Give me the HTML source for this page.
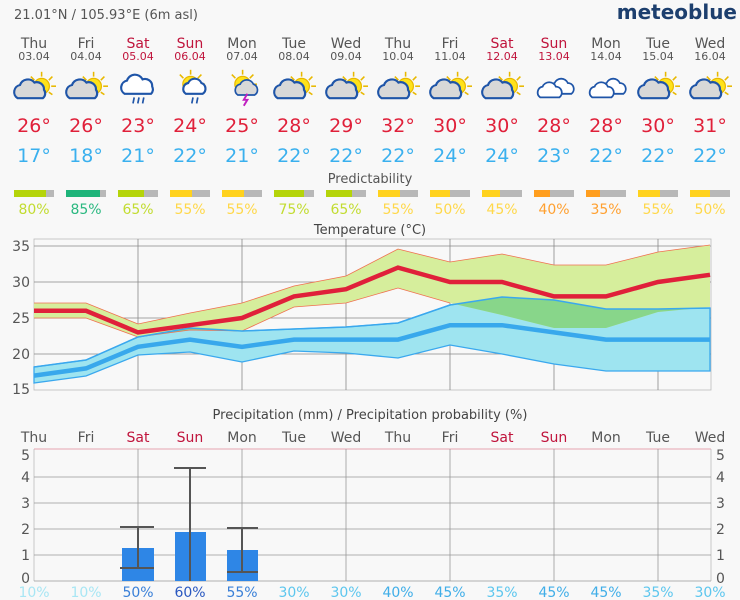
<!DOCTYPE html>
<html><head><meta charset="utf-8"><style>
body{margin:0;background:#f8f8f8;}
svg{display:block;font-family:"DejaVu Sans","Liberation Sans",sans-serif;}
</style></head><body>
<svg width="740" height="600" viewBox="0 0 740 600" xmlns="http://www.w3.org/2000/svg">
<defs>
<g id="sun"><g stroke="#e8b800" stroke-width="1.3"><line x1="8" y1="-12" x2="8" y2="-16"/><line x1="14" y1="-9" x2="17" y2="-12"/><line x1="16" y1="-4" x2="20" y2="-4"/><line x1="2" y1="-9" x2="-1" y2="-12"/><line x1="14" y1="1" x2="17" y2="3"/></g><circle cx="8" cy="-4" r="6.5" fill="#ffe21a" stroke="#e8b800" stroke-width="1"/></g>
<path id="cl" d="M-12,6 a6,6 0 0 1 2,-11 a7,7 0 0 1 12,-2 a6,6 0 0 1 8,6 a5,5 0 0 1 -1,7 z" fill="#d8d8d8" stroke="#1f55a8" stroke-width="1.8"/>
<g id="pc"><use href="#sun"/><use href="#cl"/></g>
<g id="ov"><path d="M-4,4 a5,5 0 0 1 2,-9 a6,6 0 0 1 11,0 a5,5 0 0 1 3,9 z" fill="#fff" stroke="#1f55a8" stroke-width="1.5"/><path d="M-14,7 a5,5 0 0 1 2,-9 a6,6 0 0 1 11,0 a5,5 0 0 1 3,9 z" fill="#fff" stroke="#1f55a8" stroke-width="1.5"/></g>
<g id="rain"><path d="M-12,4 a6,6 0 0 1 2,-11 a7,7 0 0 1 13,-1 a6,6 0 0 1 8,6 a5,5 0 0 1 -1,6 z" fill="#fff" stroke="#1f55a8" stroke-width="1.8"/><g stroke="#1f55a8" stroke-width="1.4"><line x1="-4" y1="7" x2="-5" y2="12"/><line x1="0" y1="7" x2="-1" y2="12"/><line x1="4" y1="7" x2="3" y2="12"/></g></g>
<g id="sunrain"><use href="#sun" x="-10" y="0"/><path d="M-6,4 a5,5 0 0 1 2,-9 a6,6 0 0 1 11,0 a5,5 0 0 1 1,9 z" fill="#fff" stroke="#1f55a8" stroke-width="1.8"/><g stroke="#1f55a8" stroke-width="1.4"><line x1="0" y1="7" x2="-1" y2="12"/><line x1="4" y1="7" x2="3" y2="12"/></g></g>
<g id="thunder"><use href="#sun" x="-10" y="0"/><path d="M-6,5 a5,5 0 0 1 2,-9 a6,6 0 0 1 11,0 a5,5 0 0 1 1,9 z" fill="#d8d8d8" stroke="#1f55a8" stroke-width="1.4"/><path d="M2,4 l-3,5 h3 l-3,5" stroke="#c020c0" stroke-width="1.6" fill="none"/></g>
<clipPath id="minclip"><polygon points="34,367 86,360 138,337 190,328 242,331 294,329 346,327 398,323 450,305 502,297 554,300 606,309 658,309 710,308 710,371 658,371 606,371 554,364 502,354 450,345 398,358 346,353 294,351 242,362 190,352 138,355 86,376 34,383"/></clipPath>
</defs>
<text x="14" y="19" font-size="13" fill="#555">21.01°N / 105.93°E (6m asl)</text>
<text x="737" y="19" font-size="20" font-weight="bold" fill="#1d3f6e" text-anchor="end">meteoblue</text>

<g font-size="14" text-anchor="middle" fill="#555">
<text x="34" y="48">Thu</text><text x="86" y="48">Fri</text><text x="138" y="48" fill="#c0143c">Sat</text><text x="190" y="48" fill="#c0143c">Sun</text><text x="242" y="48">Mon</text><text x="294" y="48">Tue</text><text x="346" y="48">Wed</text><text x="398" y="48">Thu</text><text x="450" y="48">Fri</text><text x="502" y="48" fill="#c0143c">Sat</text><text x="554" y="48" fill="#c0143c">Sun</text><text x="606" y="48">Mon</text><text x="658" y="48">Tue</text><text x="710" y="48">Wed</text>
</g>
<g font-size="11" text-anchor="middle" fill="#555">
<text x="34" y="60">03.04</text><text x="86" y="60">04.04</text><text x="138" y="60" fill="#c0143c">05.04</text><text x="190" y="60" fill="#c0143c">06.04</text><text x="242" y="60">07.04</text><text x="294" y="60">08.04</text><text x="346" y="60">09.04</text><text x="398" y="60">10.04</text><text x="450" y="60">11.04</text><text x="502" y="60" fill="#c0143c">12.04</text><text x="554" y="60" fill="#c0143c">13.04</text><text x="606" y="60">14.04</text><text x="658" y="60">15.04</text><text x="710" y="60">16.04</text>
</g>
<use href="#pc" transform="translate(32,91) scale(1.2)"/>
<use href="#pc" transform="translate(84,91) scale(1.2)"/>
<use href="#rain" transform="translate(139,89) scale(1.2)"/>
<use href="#sunrain" transform="translate(193,89) scale(1.2)"/>
<use href="#thunder" transform="translate(245,89) scale(1.2)"/>
<use href="#pc" transform="translate(292,91) scale(1.2)"/>
<use href="#pc" transform="translate(344,91) scale(1.2)"/>
<use href="#pc" transform="translate(396,91) scale(1.2)"/>
<use href="#pc" transform="translate(448,91) scale(1.2)"/>
<use href="#pc" transform="translate(500,91) scale(1.2)"/>
<use href="#ov" transform="translate(557,89) scale(1.2)"/>
<use href="#ov" transform="translate(609,89) scale(1.2)"/>
<use href="#pc" transform="translate(656,91) scale(1.2)"/>
<use href="#pc" transform="translate(708,91) scale(1.2)"/>

<g font-size="19" text-anchor="middle" fill="#e0203a">
<text x="34" y="132">26°</text><text x="86" y="132">26°</text><text x="138" y="132">23°</text><text x="190" y="132">24°</text><text x="242" y="132">25°</text><text x="294" y="132">28°</text><text x="346" y="132">29°</text><text x="398" y="132">32°</text><text x="450" y="132">30°</text><text x="502" y="132">30°</text><text x="554" y="132">28°</text><text x="606" y="132">28°</text><text x="658" y="132">30°</text><text x="710" y="132">31°</text>
</g>
<g font-size="19" text-anchor="middle" fill="#3ab0ee">
<text x="34" y="162">17°</text><text x="86" y="162">18°</text><text x="138" y="162">21°</text><text x="190" y="162">22°</text><text x="242" y="162">21°</text><text x="294" y="162">22°</text><text x="346" y="162">22°</text><text x="398" y="162">22°</text><text x="450" y="162">24°</text><text x="502" y="162">24°</text><text x="554" y="162">23°</text><text x="606" y="162">22°</text><text x="658" y="162">22°</text><text x="710" y="162">22°</text>
</g>
<text x="370" y="183" font-size="13" fill="#555" text-anchor="middle">Predictability</text>
<g>
<rect x="14" y="190" width="40" height="7" fill="#b8b8b8"/><rect x="14" y="190" width="32" height="7" fill="#b5d40a"/>
<rect x="66" y="190" width="40" height="7" fill="#b8b8b8"/><rect x="66" y="190" width="34" height="7" fill="#1eb47a"/>
<rect x="118" y="190" width="40" height="7" fill="#b8b8b8"/><rect x="118" y="190" width="26" height="7" fill="#b5d40a"/>
<rect x="170" y="190" width="40" height="7" fill="#b8b8b8"/><rect x="170" y="190" width="22" height="7" fill="#ffd21e"/>
<rect x="222" y="190" width="40" height="7" fill="#b8b8b8"/><rect x="222" y="190" width="22" height="7" fill="#ffd21e"/>
<rect x="274" y="190" width="40" height="7" fill="#b8b8b8"/><rect x="274" y="190" width="30" height="7" fill="#b5d40a"/>
<rect x="326" y="190" width="40" height="7" fill="#b8b8b8"/><rect x="326" y="190" width="26" height="7" fill="#b5d40a"/>
<rect x="378" y="190" width="40" height="7" fill="#b8b8b8"/><rect x="378" y="190" width="22" height="7" fill="#ffd21e"/>
<rect x="430" y="190" width="40" height="7" fill="#b8b8b8"/><rect x="430" y="190" width="20" height="7" fill="#ffd21e"/>
<rect x="482" y="190" width="40" height="7" fill="#b8b8b8"/><rect x="482" y="190" width="18" height="7" fill="#ffd21e"/>
<rect x="534" y="190" width="40" height="7" fill="#b8b8b8"/><rect x="534" y="190" width="16" height="7" fill="#ff9e1e"/>
<rect x="586" y="190" width="40" height="7" fill="#b8b8b8"/><rect x="586" y="190" width="14" height="7" fill="#ff9e1e"/>
<rect x="638" y="190" width="40" height="7" fill="#b8b8b8"/><rect x="638" y="190" width="22" height="7" fill="#ffd21e"/>
<rect x="690" y="190" width="40" height="7" fill="#b8b8b8"/><rect x="690" y="190" width="20" height="7" fill="#ffd21e"/>
</g>
<g font-size="14" text-anchor="middle">
<text x="34" y="214" fill="#c2dc30">80%</text><text x="86" y="214" fill="#2ab880">85%</text><text x="138" y="214" fill="#c2dc30">65%</text><text x="190" y="214" fill="#ffd84a">55%</text><text x="242" y="214" fill="#ffd84a">55%</text><text x="294" y="214" fill="#c2dc30">75%</text><text x="346" y="214" fill="#c2dc30">65%</text><text x="398" y="214" fill="#ffd84a">55%</text><text x="450" y="214" fill="#ffd84a">50%</text><text x="502" y="214" fill="#ffd84a">45%</text><text x="554" y="214" fill="#ffa030">40%</text><text x="606" y="214" fill="#ffa030">35%</text><text x="658" y="214" fill="#ffd84a">55%</text><text x="710" y="214" fill="#ffd84a">50%</text>
</g>

<text x="370" y="234" font-size="13" fill="#444" text-anchor="middle">Temperature (°C)</text>
<g stroke="#888" stroke-width="0.8" fill="none">
<rect x="34" y="239" width="677" height="151" stroke="#bbb"/>
<line x1="34" y1="246" x2="711" y2="246"/><line x1="34" y1="282" x2="711" y2="282"/><line x1="34" y1="318" x2="711" y2="318"/><line x1="34" y1="354" x2="711" y2="354"/>
<line x1="138" y1="239" x2="138" y2="390"/><line x1="242" y1="239" x2="242" y2="390"/><line x1="346" y1="239" x2="346" y2="390"/><line x1="450" y1="239" x2="450" y2="390"/><line x1="554" y1="239" x2="554" y2="390"/><line x1="658" y1="239" x2="658" y2="390"/>
</g>
<g font-size="14" fill="#555" text-anchor="end">
<text x="30" y="251">35</text><text x="30" y="287">30</text><text x="30" y="323">25</text><text x="30" y="359">20</text><text x="30" y="394">15</text>
</g>
<polygon points="34,367 86,360 138,337 190,328 242,331 294,329 346,327 398,323 450,305 502,297 554,300 606,309 658,309 710,308 710,371 658,371 606,371 554,364 502,354 450,345 398,358 346,353 294,351 242,362 190,352 138,355 86,376 34,383" fill="#9ee4f0" stroke="#3aa8ee" stroke-width="1.3"/>
<polygon points="34,303 86,303 138,324 190,313 242,303 294,286 346,276 398,249 450,262 502,254 554,265 606,265 658,252 710,245 710,307 658,312 606,328 554,328 502,315 450,303 398,288 346,303 294,307 242,331 190,330 138,337 86,318 34,318" fill="#d6ee9c"/>
<polygon clip-path="url(#minclip)" points="34,303 86,303 138,324 190,313 242,303 294,286 346,276 398,249 450,262 502,254 554,265 606,265 658,252 710,245 710,307 658,312 606,328 554,328 502,315 450,303 398,288 346,303 294,307 242,331 190,330 138,337 86,318 34,318" fill="#88d68a"/>
<polyline points="34,303 86,303 138,324 190,313 242,303 294,286 346,276 398,249 450,262 502,254 554,265 606,265 658,252 710,245" fill="none" stroke="#f07050" stroke-width="0.8"/>
<polyline points="34,318 86,318 138,337 190,330 242,331 294,307 346,303 398,288 450,303" fill="none" stroke="#f07050" stroke-width="0.8"/>
<polyline points="34,367 86,360 138,337 190,328 242,331 294,329 346,327 398,323 450,305 502,297 554,300 606,309 658,309 710,308" fill="none" stroke="#3aa8ee" stroke-width="1.5"/>
<polyline points="34,375.6 86,368.4 138,346.8 190,339.6 242,346.8 294,339.6 346,339.6 398,339.6 450,325.2 502,325.2 554,332.4 606,339.6 658,339.6 710,339.6" fill="none" stroke="#38a8ec" stroke-width="4.5"/>
<polyline points="34,310.8 86,310.8 138,332.4 190,325.2 242,318 294,296.4 346,289.2 398,267.6 450,282 502,282 554,296.4 606,296.4 658,282 710,274.8" fill="none" stroke="#e0203a" stroke-width="4.5"/>

<text x="370" y="419" font-size="13" fill="#444" text-anchor="middle">Precipitation (mm) / Precipitation probability (%)</text>
<g font-size="14" text-anchor="middle" fill="#555">
<text x="34" y="442">Thu</text><text x="86" y="442">Fri</text><text x="138" y="442" fill="#c0143c">Sat</text><text x="190" y="442" fill="#c0143c">Sun</text><text x="242" y="442">Mon</text><text x="294" y="442">Tue</text><text x="346" y="442">Wed</text><text x="398" y="442">Thu</text><text x="450" y="442">Fri</text><text x="502" y="442" fill="#c0143c">Sat</text><text x="554" y="442" fill="#c0143c">Sun</text><text x="606" y="442">Mon</text><text x="658" y="442">Tue</text><text x="710" y="442">Wed</text>
</g>
<g stroke="#999" stroke-width="0.8" fill="none">
<line x1="34" y1="449" x2="711" y2="449" stroke="#e08898"/>
<line x1="34" y1="449" x2="34" y2="581" stroke="#bbb"/><line x1="711" y1="449" x2="711" y2="581" stroke="#bbb"/>
<line x1="34" y1="477" x2="711" y2="477"/><line x1="34" y1="503" x2="711" y2="503"/><line x1="34" y1="529" x2="711" y2="529"/><line x1="34" y1="555" x2="711" y2="555"/><line x1="34" y1="581" x2="711" y2="581"/>
<line x1="138" y1="449" x2="138" y2="581"/><line x1="242" y1="449" x2="242" y2="581"/><line x1="346" y1="449" x2="346" y2="581"/><line x1="450" y1="449" x2="450" y2="581"/><line x1="554" y1="449" x2="554" y2="581"/><line x1="658" y1="449" x2="658" y2="581"/>
</g>
<g font-size="14" fill="#555">
<g text-anchor="end"><text x="30" y="460">5</text><text x="30" y="482">4</text><text x="30" y="508">3</text><text x="30" y="534">2</text><text x="30" y="560">1</text><text x="30" y="583">0</text></g>
<text x="716" y="460">5</text><text x="716" y="482">4</text><text x="716" y="508">3</text><text x="716" y="534">2</text><text x="716" y="560">1</text><text x="716" y="583">0</text>
</g>
<rect x="122" y="548" width="32" height="33" fill="#2e86e6"/>
<rect x="175" y="532" width="31" height="49" fill="#2e86e6"/>
<rect x="227" y="550" width="31" height="31" fill="#2e86e6"/>
<g stroke="#555" stroke-width="2">
<line x1="138" y1="527" x2="138" y2="568"/><line x1="120" y1="527" x2="154" y2="527"/><line x1="120" y1="568" x2="154" y2="568"/>
<line x1="190" y1="468" x2="190" y2="581"/><line x1="174" y1="468" x2="206" y2="468"/>
<line x1="242" y1="528" x2="242" y2="572"/><line x1="227" y1="528" x2="258" y2="528"/><line x1="227" y1="572" x2="258" y2="572"/>
</g>
<g font-size="14" text-anchor="middle">
<text x="34" y="597" fill="#a8e6f4">10%</text><text x="86" y="597" fill="#a8e6f4">10%</text><text x="138" y="597" fill="#3a80d8">50%</text><text x="190" y="597" fill="#2a58c0">60%</text><text x="242" y="597" fill="#3a80d8">55%</text><text x="294" y="597" fill="#5cc6ee">30%</text><text x="346" y="597" fill="#5cc6ee">30%</text><text x="398" y="597" fill="#40aee8">40%</text><text x="450" y="597" fill="#40aee8">45%</text><text x="502" y="597" fill="#5cc6ee">35%</text><text x="554" y="597" fill="#40aee8">45%</text><text x="606" y="597" fill="#40aee8">45%</text><text x="658" y="597" fill="#5cc6ee">35%</text><text x="710" y="597" fill="#5cc6ee">30%</text>
</g>
</svg>
</body></html>
